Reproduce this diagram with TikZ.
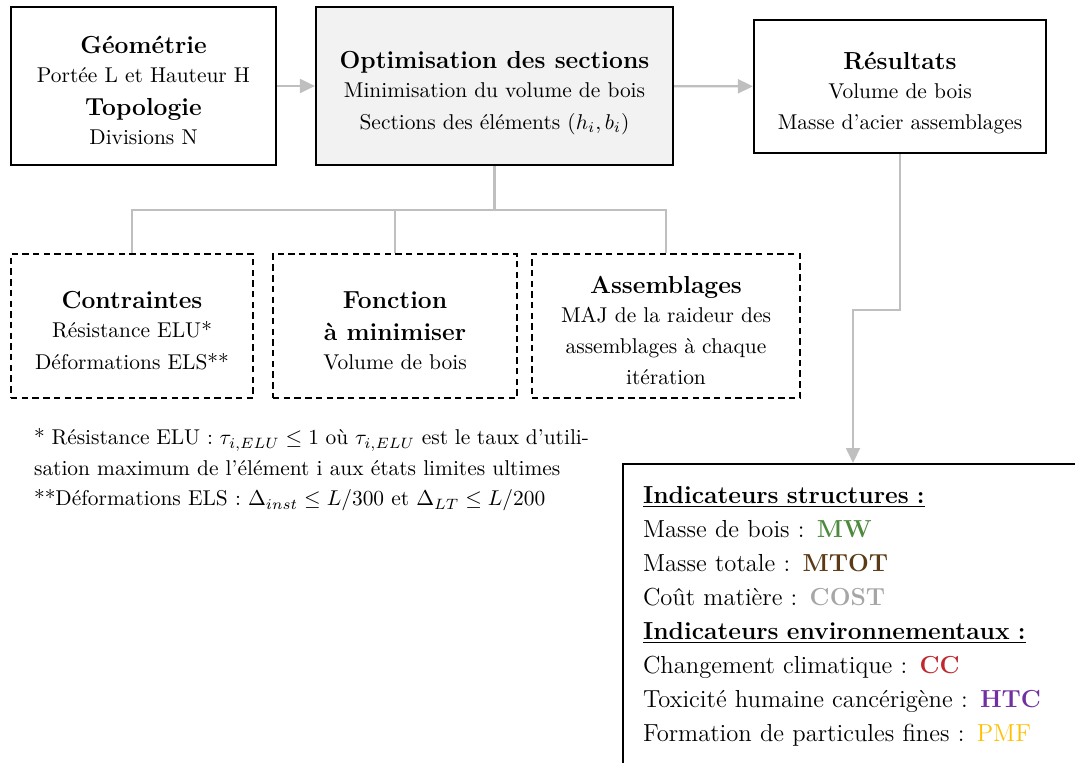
\documentclass[tikz,border=0pt]{standalone}
\usepackage{fontspec}
\usetikzlibrary{arrows.meta}
\definecolor{cMW}{HTML}{4E8A3E}
\definecolor{cMTOT}{HTML}{5C3A16}
\definecolor{cCOST}{HTML}{A6A6A6}
\definecolor{cCC}{HTML}{C0282E}
\definecolor{cHTC}{HTML}{7030A0}
\definecolor{cPMF}{HTML}{FFC000}
\definecolor{gristrait}{HTML}{BFBFBF}
\definecolor{grisfond}{HTML}{F2F2F2}
\newcommand\titre[1]{{\fontsize{11.5}{14.6}\selectfont\bfseries\raisebox{-1pt}{#1}}}
\newcommand\haut{\rule{0pt}{14.2pt}}
\begin{document}
\begin{tikzpicture}[x=0.467pt, y=-0.467pt, line width=1pt, >={Triangle[length=7pt,width=6.5pt]},
	bloc/.style 2 args={draw, align=center, minimum width=#1*0.467pt, minimum height=#2*0.467pt, inner ysep=1pt,
		font=\fontsize{10}{14.6}\selectfont, execute at end node={\rule[-3pt]{0pt}{3pt}}},
	contrainte/.style 2 args={bloc={#1}{#2}, dash pattern=on 3pt off 2pt},
	lien/.style={draw=gristrait, line width=1pt}]
	\clip (0,0) rectangle (1075,762);
	\node[bloc={265}{158}] (geo) at (143.5,86) {\haut\titre{Géométrie}\\Portée L et Hauteur H\\\titre{Topologie}\\Divisions N};
	\node[bloc={357}{158}, fill=grisfond] (optim) at (494.5,86) {\haut\titre{Optimisation des sections}\\Minimisation du volume de bois\\Sections des éléments $(h_i,b_i)$};
	\node[bloc={292}{133}] (res) at (900,86.5) {\haut\titre{Résultats}\\Volume de bois\\Masse d'acier assemblages};
	\node[contrainte={242}{144}] (contr) at (132,326) {\haut\titre{Contraintes}\\Résistance ELU*\\Déformations ELS**};
	\node[contrainte={244}{144}] (fonct) at (395,326) {\haut\titre{Fonction}\\\titre{à minimiser}\\Volume de bois};
	\node[contrainte={268}{144}] (assem) at (666,326) {\haut\titre{Assemblages}\\MAJ de la raideur des\\assemblages à chaque\\itération};
	\node[anchor=west, inner sep=0pt, text width=555*0.467pt, align=justify, font=\fontsize{10}{14.25}\selectfont] (note) at (33,470)
		{* Résistance ELU : $\tau_{i,ELU}\leq 1$ où $\tau_{i,ELU}$ est le taux d'utili-\linebreak sation maximum de l'élément i aux états limites ultimes\\{}**Déformations ELS : $\Delta_{inst}\leq L/300$ et $\Delta_{LT}\leq L/200$};
	\node[draw, anchor=north, minimum width=460*0.467pt, minimum height=304*0.467pt, inner xsep=20*0.467pt, text width=420*0.467pt,
		align=left, font=\fontsize{11.5}{15.9}\selectfont] (indic) at (853,463)
		{\underline{\textbf{Indicateurs structures :}}\\
		Masse de bois : \textcolor{cMW}{\textbf{MW}}\\
		Masse totale : \textcolor{cMTOT}{\textbf{MTOT}}\\
		Coût matière : \textcolor{cCOST}{\textbf{COST}}\\
		\underline{\textbf{Indicateurs environnementaux :}}\\
		Changement climatique : \textcolor{cCC}{\textbf{CC}}\\
		Toxicité humaine cancérigène : \textcolor{cHTC}{\textbf{HTC}}\\
		Formation de particules fines : \textcolor{cPMF}{PMF}};
	\draw[lien,->] (geo) -- (optim);
	\draw[lien,->] (optim) -- (res);
	\foreach \b in {contr,fonct,assem} {\draw[lien] (optim.south) -- ++(0,44) -| (\b.north);}
	\draw[lien,->] (res.south) -- ++(0,156) -| (indic.north);
\end{tikzpicture}
\end{document}
